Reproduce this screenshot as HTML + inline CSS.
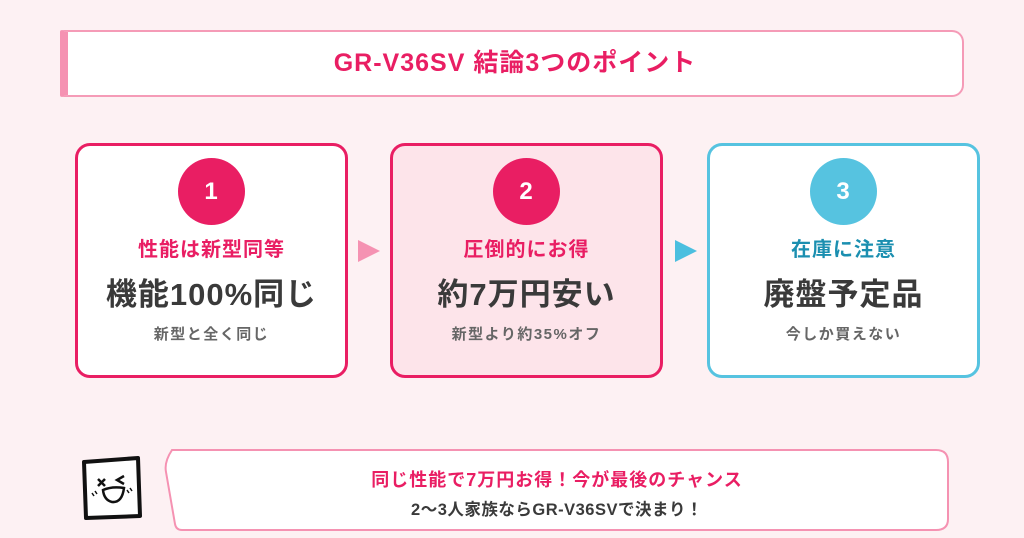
<!DOCTYPE html>
<html><head><meta charset="utf-8"><style>
*{margin:0;padding:0;box-sizing:border-box}
body{width:1024px;height:538px;background:#fdf1f3;position:relative;overflow:hidden;font-family:"Liberation Sans","Noto Sans CJK JP",sans-serif;font-weight:bold}
.title{position:absolute;left:60px;top:30px;width:904px;height:67px;background:#fff;border:2px solid #f59bb7;border-left:8px solid #f592b2;border-radius:2px 12px 12px 2px;text-align:center;line-height:63px;color:#e91e63;font-size:25px;letter-spacing:1px}
.card{position:absolute;top:143px;width:273px;height:235px;border:3px solid #e91e63;border-radius:15px;background:#fff;text-align:center}
.circ{position:absolute;left:50%;top:12px;margin-left:-34px;width:67px;height:67px;border-radius:50%;background:#e91e63;color:#fff;font-size:24px;line-height:67px}
.h{position:absolute;left:0;right:0;top:87px;font-size:20px;color:#e91e63;letter-spacing:1px}
.m{position:absolute;left:0;right:0;top:123px;font-size:31px;color:#3a3a3a;letter-spacing:1px}
.s{position:absolute;left:0;right:0;top:177px;font-size:15px;color:#666;letter-spacing:1.5px}
.arr{position:absolute;top:240px;width:0;height:0;border-top:11px solid transparent;border-bottom:11px solid transparent;border-left:22px solid #f592b2}
.t1{position:absolute;left:166px;width:782px;text-align:center}
</style></head><body>
<div class="title">GR-V36SV 結論3つのポイント</div>

<div class="card" style="left:75px"><div class="circ">1</div><div class="h">性能は新型同等</div><div class="m">機能100%同じ</div><div class="s">新型と全く同じ</div></div>
<div class="arr" style="left:358px"></div>
<div class="card" style="left:390px;background:#fde4ea"><div class="circ">2</div><div class="h">圧倒的にお得</div><div class="m">約7万円安い</div><div class="s">新型より約35%オフ</div></div>
<div class="arr" style="left:675px;border-left-color:#4bbfdf"></div>
<div class="card" style="left:707px;border-color:#56c3e0"><div class="circ" style="background:#56c3e0">3</div><div class="h" style="color:#1b8fb0">在庫に注意</div><div class="m">廃盤予定品</div><div class="s">今しか買えない</div></div>

<svg style="position:absolute;left:0;top:0" width="1024" height="538">
<path d="M172,450 H936 Q948,450 948,462 V519 Q948,530 936,530 H182 Q176,530 175,524 L166,472 Q164,462 172,450 Z" fill="#fff" stroke="#f592b2" stroke-width="2"/>
<path d="M84,462 L138,458 L140,516 L86,518 Z" fill="#fff" stroke="#111" stroke-width="4" stroke-linejoin="round"/>
<path d="M98,479 l7,7 M105,479 l-7,7" stroke="#111" stroke-width="2.5"/>
<path d="M124,476 l-7,4 l7,4" stroke="#111" stroke-width="2.5" fill="none"/>
<path d="M103,490 Q112,486 124,488 Q122,503 112,502 Q104,500 103,490 Z" fill="#fff" stroke="#111" stroke-width="2.5"/>
<path d="M92,493 l2,3 M95,491 l2,3 M127,490 l2,3 M130,488 l2,3" stroke="#111" stroke-width="1.5"/>
</svg>
<div class="t1" style="top:466px;font-size:18px;color:#e91e63;letter-spacing:1px">同じ性能で7万円お得！今が最後のチャンス</div>
<div class="t1" style="top:496px;font-size:16.5px;color:#3a3a3a;letter-spacing:0.5px">2〜3人家族ならGR-V36SVで決まり！</div>
</body></html>
